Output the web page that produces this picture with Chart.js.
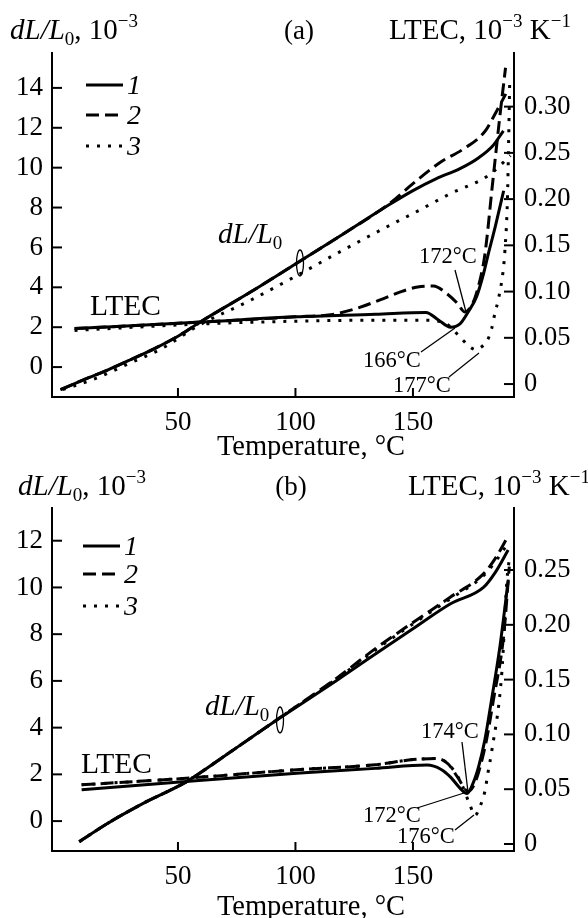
<!DOCTYPE html>
<html>
<head>
<meta charset="utf-8">
<script src="https://cdn.jsdelivr.net/npm/chart.js@4.4.1/dist/chart.umd.min.js"></script>
<style>
  html, body { margin: 0; padding: 0; background: #fff; }
  .panel { position: absolute; left: 0; width: 588px; height: 459px; }
  #panelA { top: 0; }
  #panelB { top: 459px; }
</style>
</head>
<body>
<div class="panel" id="panelA"><canvas id="chartA" width="588" height="459"></canvas></div>
<div class="panel" id="panelB"><canvas id="chartB" width="588" height="459"></canvas></div>
<script>
// ---- panel (a): dL/L0, 10^-3 (left axis) ----
const tA_dL1 = [0, 10, 20, 30, 40, 50, 60, 80, 100, 120, 140, 150, 160, 170, 178, 184, 188.5];
const a_dL1 = [-1.13, -0.63, -0.15, 0.38, 0.93, 1.55, 2.3, 3.7, 5.17, 6.65, 8.15, 8.85, 9.45, 9.95, 10.5, 11.1, 11.85];
const tA_dL2 = [0, 10, 20, 30, 40, 50, 60, 80, 100, 120, 140, 150, 162, 171, 180.5, 185, 189.5];
const a_dL2 = [-1.13, -0.63, -0.15, 0.38, 0.93, 1.55, 2.3, 3.7, 5.17, 6.65, 8.2, 9.2, 10.3, 10.9, 11.8, 12.7, 13.7];
const tA_dL3 = [1, 15, 29, 43, 59, 80, 100, 120, 140, 150, 166, 182, 191.5];
const a_dL3 = [-1.13, -0.57, 0.17, 0.92, 2.1, 3.3, 4.55, 5.85, 7.1, 7.7, 8.7, 9.6, 10.6];

// ---- panel (a): LTEC, 10^-3 K^-1 (right axis) ----
const tA_c1 = [6, 60, 100, 134, 155.5, 161, 166, 170, 173.5, 177, 180, 182, 185, 188.6];
const a_c1 = [0.060, 0.067, 0.0727, 0.0755, 0.0775, 0.069, 0.0615, 0.065, 0.078, 0.094, 0.119, 0.140, 0.170, 0.209];
const tA_c2 = [6, 60, 100, 115, 125, 136, 145, 152, 158.7, 164.3, 169, 172, 174.5, 177, 180.6, 183.8, 187, 189.4];
const a_c2 = [0.060, 0.067, 0.0727, 0.075, 0.081, 0.091, 0.100, 0.105, 0.106, 0.098, 0.087, 0.078, 0.083, 0.098, 0.14, 0.215, 0.29, 0.342];
const tA_c3 = [6, 60, 100, 130, 155, 163.6, 170.7, 174.3, 177, 178.5, 181.6, 183.5, 184.9, 186.3, 188.4, 189.1, 190.2, 191.2];
const a_c3 = [0.058, 0.065, 0.068, 0.069, 0.069, 0.066, 0.049, 0.040, 0.037, 0.039, 0.047, 0.060, 0.077, 0.091, 0.123, 0.143, 0.2, 0.33];

// ---- panel (b): dL/L0 ----
const tB_dL = [8, 20, 35, 53.5, 70, 93, 118, 134, 150, 166, 180, 185.4, 190.5];
const b_dL1 = [-0.88, -0.1, 0.75, 1.68, 2.8, 4.39, 6.05, 7.15, 8.23, 9.3, 10.0, 10.7, 11.6];
const b_dL2 = [-0.88, -0.1, 0.75, 1.68, 2.8, 4.4, 6.15, 7.38, 8.5, 9.59, 10.58, 11.3, 12.2];
const b_dL3 = [-0.88, -0.1, 0.75, 1.68, 2.8, 4.4, 6.12, 7.32, 8.44, 9.52, 10.5, 11.15, 11.9];

// ---- panel (b): LTEC ----
const tB_c1 = [9, 53.5, 102, 134, 156, 162, 166, 170, 173, 175.5, 178, 180.6, 183.4, 187, 190.5];
const b_c1 = [0.0495, 0.057, 0.0647, 0.069, 0.072, 0.068, 0.061, 0.051, 0.046, 0.055, 0.071, 0.095, 0.131, 0.18, 0.24];
const tB_c2 = [9, 53.5, 102, 134, 150, 160.4, 165, 169, 173.5, 175.5, 177.8, 181.3, 184.2, 188.6, 191];
const b_c2 = [0.054, 0.06, 0.068, 0.0723, 0.077, 0.078, 0.073, 0.061, 0.048, 0.052, 0.0645, 0.095, 0.131, 0.19, 0.253];
const tB_c3 = [9, 53.5, 102, 134, 150, 160.4, 165, 170, 174.2, 176.4, 178.5, 180.6, 182, 183.4, 187.8, 190, 191];
const b_c3 = [0.054, 0.06, 0.068, 0.0723, 0.077, 0.078, 0.073, 0.058, 0.036, 0.026, 0.034, 0.048, 0.066, 0.083, 0.156, 0.241, 0.26];

// tick labels
const xTicks = [50, 100, 150];
const yTicksA = [0, 2, 4, 6, 8, 10, 12, 14];
const yTicksB = [0, 2, 4, 6, 8, 10, 12];
const rTicksA = [0, 0.05, 0.10, 0.15, 0.20, 0.25, 0.30];
const rTicksB = [0, 0.05, 0.10, 0.15, 0.20, 0.25];

const SERIF = "'Liberation Serif', 'DejaVu Serif', serif";
const DASH = { solid: [], dashed: [13, 6], dotted: [3, 8] };

const pts = (xs, ys) => xs.map((x, i) => ({ x: x, y: ys[i] }));

const line = (xs, ys, style, axis) => ({
  data: pts(xs, ys),
  yAxisID: axis,
  borderColor: "#000",
  borderWidth: 3,
  borderDash: DASH[style],
  pointRadius: 0,
  fill: false,
  cubicInterpolationMode: "monotone",
});

// draw a string made of pieces (italic, sub/superscript)
function rich(ctx, x, y, parts, align) {
  let w = 0;
  parts.forEach((p) => {
    ctx.font = (p.it ? "italic " : "") + p.s + "px " + SERIF;
    p.w = ctx.measureText(p.t).width;
    w += p.w;
  });
  let cx = align === "center" ? x - w / 2 : x;
  ctx.textBaseline = "alphabetic";
  ctx.textAlign = "left";
  parts.forEach((p) => {
    ctx.font = (p.it ? "italic " : "") + p.s + "px " + SERIF;
    ctx.fillText(p.t, cx, y + (p.dy || 0));
    cx += p.w;
  });
}

function seg(ctx, x1, y1, x2, y2, w) {
  ctx.lineWidth = w;
  ctx.beginPath();
  ctx.moveTo(x1, y1);
  ctx.lineTo(x2, y2);
  ctx.stroke();
}

const decor = {
  id: "decor",
  afterDraw(chart) {
    const ctx = chart.ctx;
    const cfg = chart.options.plugins.decor;
    const { left, right, bottom } = chart.chartArea;
    const s = chart.scales;
    ctx.save();
    ctx.strokeStyle = "#000";
    ctx.fillStyle = "#000";
    ctx.setLineDash([]);
    // inward ticks
    s.yL.ticks.forEach((t) => { const p = s.yL.getPixelForValue(t.value); seg(ctx, left, p, left + 10, p, 2); });
    s.yR.ticks.forEach((t) => { const p = s.yR.getPixelForValue(t.value); seg(ctx, right, p, right - 10, p, 2); });
    s.x.ticks.forEach((t) => { const p = s.x.getPixelForValue(t.value); seg(ctx, p, bottom, p, bottom - 9, 2); });

    // headers
    const hy = cfg.headerY;
    rich(ctx, cfg.leftTitleX, hy, [
      { t: "dL/L", s: 29, it: true }, { t: "0", s: 19, dy: 6 },
      { t: ", 10", s: 29 }, { t: "\u22123", s: 19, dy: -12 },
    ]);
    rich(ctx, cfg.panelX, hy, [{ t: cfg.panel, s: 27 }], "center");
    rich(ctx, cfg.rightTitleX, hy, [
      { t: "LTEC, 10", s: 29 }, { t: "\u22123", s: 19, dy: -12 },
      { t: " K", s: 29 }, { t: "\u22121", s: 19, dy: -12 },
    ]);

    // x axis title
    rich(ctx, 311, cfg.titleY, [{ t: "Temperature, \u00b0C", s: 28.5 }], "center");

    // legend
    const styles = ["solid", "dashed", "dotted"];
    cfg.legendY.forEach((ly, i) => {
      ctx.setLineDash(DASH[styles[i]]);
      seg(ctx, cfg.legendX, ly, cfg.legendX + 37, ly, 3);
      ctx.setLineDash([]);
      rich(ctx, cfg.legendX + 41, ly + 9, [{ t: String(i + 1), s: 28, it: true }]);
    });

    // curve labels
    rich(ctx, cfg.ltec[0], cfg.ltec[1], [{ t: "LTEC", s: 29.5 }]);
    rich(ctx, cfg.dl[0], cfg.dl[1], [{ t: "dL/L", s: 29, it: true }, { t: "0", s: 19, dy: 6 }]);
    ctx.lineWidth = 1.3;
    ctx.beginPath();
    ctx.ellipse(cfg.ring[0], cfg.ring[1], 3.5, 13, 0, 0, Math.PI * 2);
    ctx.stroke();

    // temperature marks
    cfg.marks.forEach((m) => {
      rich(ctx, m.x, m.y, [{ t: m.t, s: 22.5 }]);
      seg(ctx, m.l[0], m.l[1], m.l[2], m.l[3], 1.3);
    });
    ctx.restore();
  },
};

function makeChart(id, d) {
  return new Chart(document.getElementById(id), {
    type: "line",
    data: { datasets: d.datasets },
    plugins: [decor],
    options: {
      responsive: false,
      animation: false,
      events: [],
      layout: { padding: { top: d.top, left: 0, right: 0, bottom: 0 } },
      plugins: { legend: { display: false }, tooltip: { enabled: false }, decor: d.decor },
      scales: {
        x: {
          type: "linear", position: "bottom", min: -3.6, max: 193,
          grid: { display: false, drawTicks: false },
          border: { display: true, width: 2, color: "#000" },
          afterBuildTicks: (sc) => { sc.ticks = xTicks.map((v) => ({ value: v })); },
          afterFit: (sc) => { sc.height = d.xHeight; },
          ticks: { color: "#000", padding: 10, font: { family: SERIF, size: 27 }, callback: (v) => String(v) },
        },
        yL: {
          type: "linear", position: "left", min: d.yL[0], max: d.yL[1],
          grid: { display: false, drawTicks: false },
          border: { display: true, width: 2, color: "#000" },
          afterBuildTicks: (sc) => { sc.ticks = d.yTicks.map((v) => ({ value: v })); },
          afterFit: (sc) => { sc.width = 52; },
          ticks: { color: "#000", padding: 9, font: { family: SERIF, size: 27 }, callback: (v) => String(v) },
        },
        yR: {
          type: "linear", position: "right", min: d.yR[0], max: d.yR[1],
          grid: { display: false, drawTicks: false },
          border: { display: true, width: 2, color: "#000" },
          afterBuildTicks: (sc) => { sc.ticks = d.rTicks.map((v) => ({ value: v })); },
          afterFit: (sc) => { sc.width = 74; },
          ticks: { color: "#000", padding: 10, font: { family: SERIF, size: 26.5 }, callback: (v) => (v === 0 ? "0" : v.toFixed(2)) },
        },
      },
    },
  });
}

makeChart("chartA", {
  top: 53, xHeight: 62,
  yL: [-1.5, 15.75], yR: [-0.014, 0.358],
  yTicks: yTicksA, rTicks: rTicksA,
  datasets: [
    line(tA_dL1, a_dL1, "solid", "yL"), line(tA_dL2, a_dL2, "dashed", "yL"), line(tA_dL3, a_dL3, "dotted", "yL"),
    line(tA_c1, a_c1, "solid", "yR"), line(tA_c2, a_c2, "dashed", "yR"), line(tA_c3, a_c3, "dotted", "yR"),
  ],
  decor: {
    headerY: 39, panel: "(a)", panelX: 299, leftTitleX: 10, rightTitleX: 389, titleY: 455,
    legendX: 86, legendY: [85, 115, 146],
    ltec: [90, 315], dl: [218, 243], ring: [300, 263],
    marks: [
      { t: "172\u00b0C", x: 419, y: 263, l: [455, 270, 466, 312] },
      { t: "166\u00b0C", x: 363, y: 367, l: [421, 352, 455, 328] },
      { t: "177\u00b0C", x: 393, y: 392, l: [449, 377, 479, 353] },
    ],
  },
});

makeChart("chartB", {
  top: 49, xHeight: 67,
  yL: [-1.28, 13.4], yR: [-0.0064, 0.3066],
  yTicks: yTicksB, rTicks: rTicksB,
  datasets: [
    line(tB_dL, b_dL1, "solid", "yL"), line(tB_dL, b_dL2, "dashed", "yL"), line(tB_dL, b_dL3, "dotted", "yL"),
    line(tB_c1, b_c1, "solid", "yR"), line(tB_c2, b_c2, "dashed", "yR"), line(tB_c3, b_c3, "dotted", "yR"),
  ],
  decor: {
    headerY: 36, panel: "(b)", panelX: 291, leftTitleX: 18, rightTitleX: 408, titleY: 456,
    legendX: 83, legendY: [87, 115, 147],
    ltec: [81, 314], dl: [205, 256], ring: [280, 261],
    marks: [
      { t: "174\u00b0C", x: 421, y: 279, l: [462, 283, 468, 333] },
      { t: "172\u00b0C", x: 363, y: 363, l: [417, 349, 464, 334] },
      { t: "176\u00b0C", x: 397, y: 384, l: [455, 371, 474, 356] },
    ],
  },
});
</script>
</body>
</html>
